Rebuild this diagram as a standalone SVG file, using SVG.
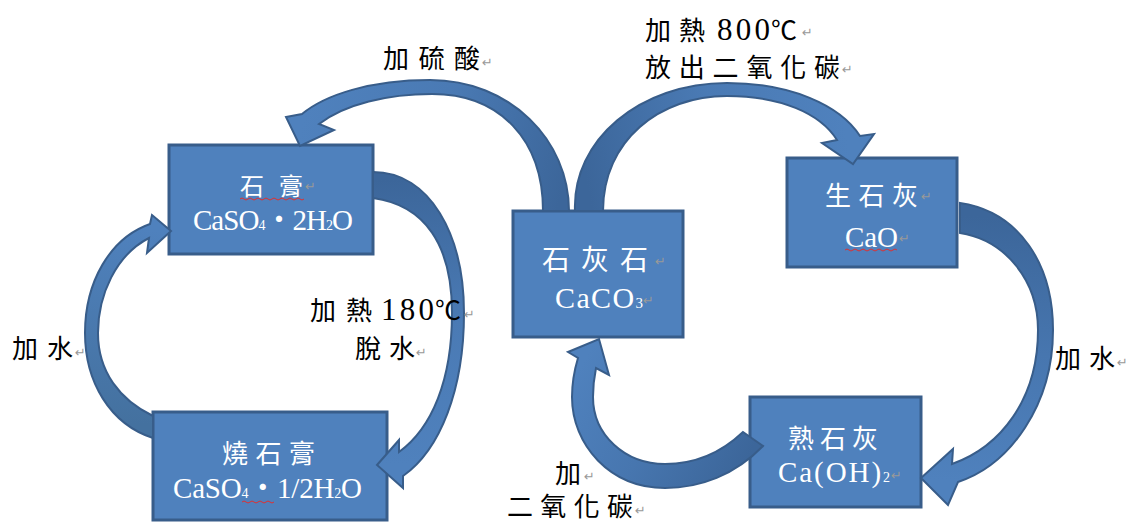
<svg xmlns="http://www.w3.org/2000/svg" width="1129" height="522" viewBox="0 0 1129 522">
<style>
.box{fill:#4F81BD;stroke:#385D8A;stroke-width:3}
.arr{stroke:#385D8A;stroke-width:2;stroke-linejoin:miter}
.nt{fill:#FFFFFF;font-family:"Liberation Serif","Noto Sans CJK TC",serif}
.lb{fill:#000000;font-family:"Liberation Serif","Noto Sans CJK TC",serif;font-size:26px}
.rm{fill:#999999;font-family:"DejaVu Sans",sans-serif;font-size:13px}
.sq{fill:none;stroke:#E03030;stroke-width:1}
</style>
<defs>
<linearGradient id="g1" gradientUnits="userSpaceOnUse" x1="560" y1="200" x2="300" y2="130"><stop offset="0" stop-color="#3C669A"/><stop offset="0.5" stop-color="#4A7AB4"/><stop offset="1" stop-color="#4F81BD"/></linearGradient>
<linearGradient id="g2" gradientUnits="userSpaceOnUse" x1="590" y1="200" x2="850" y2="150"><stop offset="0" stop-color="#3C669A"/><stop offset="0.5" stop-color="#4A7AB4"/><stop offset="1" stop-color="#4F81BD"/></linearGradient>
<linearGradient id="g3" gradientUnits="userSpaceOnUse" x1="380" y1="180" x2="390" y2="465"><stop offset="0" stop-color="#3C669A"/><stop offset="0.5" stop-color="#4A7AB4"/><stop offset="1" stop-color="#4F81BD"/></linearGradient>
<linearGradient id="g4" gradientUnits="userSpaceOnUse" x1="150" y1="425" x2="160" y2="230"><stop offset="0" stop-color="#44719F"/><stop offset="1" stop-color="#4F81BD"/></linearGradient>
<linearGradient id="g5" gradientUnits="userSpaceOnUse" x1="960" y1="215" x2="940" y2="480"><stop offset="0" stop-color="#3C669A"/><stop offset="0.5" stop-color="#4776AF"/><stop offset="1" stop-color="#4F81BD"/></linearGradient>
<linearGradient id="g6" gradientUnits="userSpaceOnUse" x1="755" y1="445" x2="590" y2="350"><stop offset="0" stop-color="#3C669A"/><stop offset="0.5" stop-color="#4776AF"/><stop offset="1" stop-color="#4F81BD"/></linearGradient>
</defs>
<rect width="1129" height="522" fill="#FFFFFF"/>

<g id="node-gypsum">
<rect class="box" x="169" y="145" width="204" height="109"/>
<text class="nt" x="240" y="195" font-size="24" textLength="63" lengthAdjust="spacing">石膏</text>
<path class="sq" d="M240,199 q2,-2 4,0 t4,0 t4,0 t4,0 t4,0 t4,0 t4,0 t4,0 t4,0 t4,0 t4,0 t4,0 t4,0 t4,0 t4,0 t4,0"/>
<text class="rm" x="305" y="191">↵</text>
<text class="nt" x="193" y="230" font-size="29" textLength="160" lengthAdjust="spacing">CaSO<tspan font-size="14">4</tspan>・2H<tspan font-size="14">2</tspan>O</text>
</g>

<g id="node-plaster">
<rect class="box" x="153" y="412" width="234" height="108"/>
<text class="nt" x="222" y="463" font-size="26" textLength="93" lengthAdjust="spacing">燒石膏</text>
<text class="nt" x="173" y="498" font-size="29" textLength="189" lengthAdjust="spacing">CaSO<tspan font-size="14">4</tspan>・1/2H<tspan font-size="14">2</tspan>O</text>
<path class="sq" d="M242,502 q2,-2 4,0 t4,0 t4,0 t4,0 t4,0 t4,0 t4,0 t4,0"/>
</g>

<g id="node-limestone">
<rect class="box" x="513" y="211" width="170" height="126"/>
<text class="nt" x="542" y="270" font-size="28" textLength="106" lengthAdjust="spacing">石灰石</text>
<text class="rm" x="655" y="266">↵</text>
<text class="nt" x="555" y="308" font-size="30" textLength="88" lengthAdjust="spacing">CaCO<tspan font-size="15">3</tspan></text>
<text class="rm" x="643" y="305">↵</text>
</g>

<g id="node-quicklime">
<rect class="box" x="787" y="158" width="170" height="109"/>
<text class="nt" x="825" y="205" font-size="26" textLength="93" lengthAdjust="spacing">生石灰</text>
<text class="rm" x="921" y="201">↵</text>
<text class="nt" x="845" y="247" font-size="29" textLength="53" lengthAdjust="spacing">CaO</text>
<path class="sq" d="M845,250 q2,-2 4,0 t4,0 t4,0 t4,0 t4,0 t4,0 t4,0 t4,0 t4,0 t4,0 t4,0 t4,0 t4,0"/>
<text class="rm" x="899" y="243">↵</text>
</g>

<g id="node-slakedlime">
<rect class="box" x="750" y="397" width="171" height="110"/>
<text class="nt" x="788" y="448" font-size="26" textLength="90" lengthAdjust="spacing">熟石灰</text>
<text class="nt" x="778" y="482" font-size="29" textLength="112" lengthAdjust="spacing">Ca(OH)<tspan font-size="14">2</tspan></text>
<text class="rm" x="891" y="480">↵</text>
</g>

<g id="connectors">
<path class="arr" fill="url(#g1)" d="M569,211 C569,140 510,80 430,80 C370,80 325,95 302,114 L286,117 L300,146 L334,130 L319,124 C345,104 388,94 432,94 C500,94 543,140 543,211 Z"/>
<path class="arr" fill="url(#g2)" d="M575,211 C572,140 640,83 727,83 C790,83 840,105 860,136 L874,134 L853,164 L822,143 L837,140 C820,113 780,96 727,96 C660,96 603,140 603,211 Z"/>
<path class="arr" fill="url(#g3)" d="M373,172 C430,172 464,235 464,313 C464,390 440,450 403,476 L403,488 L377,465 L399,440 L399,452 C432,428 452,380 452,313 C452,245 425,205 373,198 Z"/>
<path class="arr" fill="url(#g4)" d="M150,224 L152,215 L171,231 L147,253 L149,238 C116,255 98,295 98,333 C98,372 120,400 153,416 L153,438 C110,424 85,382 85,333 C85,282 110,238 150,224 Z"/>
<path class="arr" fill="url(#g5)" d="M960,203 C1020,212 1053,265 1053,330 C1053,405 1010,465 958,482 L948,505 L921,478 L953,449 L952,464 C1000,447 1038,400 1038,330 C1038,280 1005,240 960,233 Z"/>
<path class="arr" fill="url(#g6)" d="M743,432 L763,446 C735,475 700,488 665,488 C610,488 572,445 572,397 C572,380 575,368 578,358 L568,352 L599,339 L609,375 L596,368 C594,378 593,388 593,397 C593,435 625,464 665,464 C695,464 722,452 743,432 Z"/>
</g>

<g id="labels">
<text class="lb" x="383" y="68" textLength="97" lengthAdjust="spacing">加硫酸</text>
<text class="rm" x="482" y="67">↵</text>
<text class="lb" x="645" y="40" textLength="60" lengthAdjust="spacing">加熱</text>
<text class="lb" x="717" y="40"><tspan font-size="31" textLength="53" lengthAdjust="spacing">800</tspan><tspan x="771">℃</tspan></text>
<text class="rm" x="802" y="37">↵</text>
<text class="lb" x="645" y="77" textLength="195" lengthAdjust="spacing">放出二氧化碳</text>
<text class="rm" x="842" y="74">↵</text>
<text class="lb" x="310" y="320" textLength="62" lengthAdjust="spacing">加熱</text>
<text class="lb" x="381" y="320"><tspan font-size="31" textLength="53" lengthAdjust="spacing">180</tspan><tspan x="435">℃</tspan></text>
<text class="rm" x="464" y="319">↵</text>
<text class="lb" x="355" y="358" textLength="60" lengthAdjust="spacing">脫水</text>
<text class="rm" x="416" y="357">↵</text>
<text class="lb" x="12" y="358" textLength="61" lengthAdjust="spacing">加水</text>
<text class="rm" x="75" y="357">↵</text>
<text class="lb" x="1055" y="368" textLength="60" lengthAdjust="spacing">加水</text>
<text class="rm" x="1117" y="367">↵</text>
<text class="lb" x="555" y="483">加</text>
<text class="rm" x="584" y="481">↵</text>
<text class="lb" x="507" y="516" textLength="126" lengthAdjust="spacing">二氧化碳</text>
<text class="rm" x="635" y="515">↵</text>
</g>
</svg>
